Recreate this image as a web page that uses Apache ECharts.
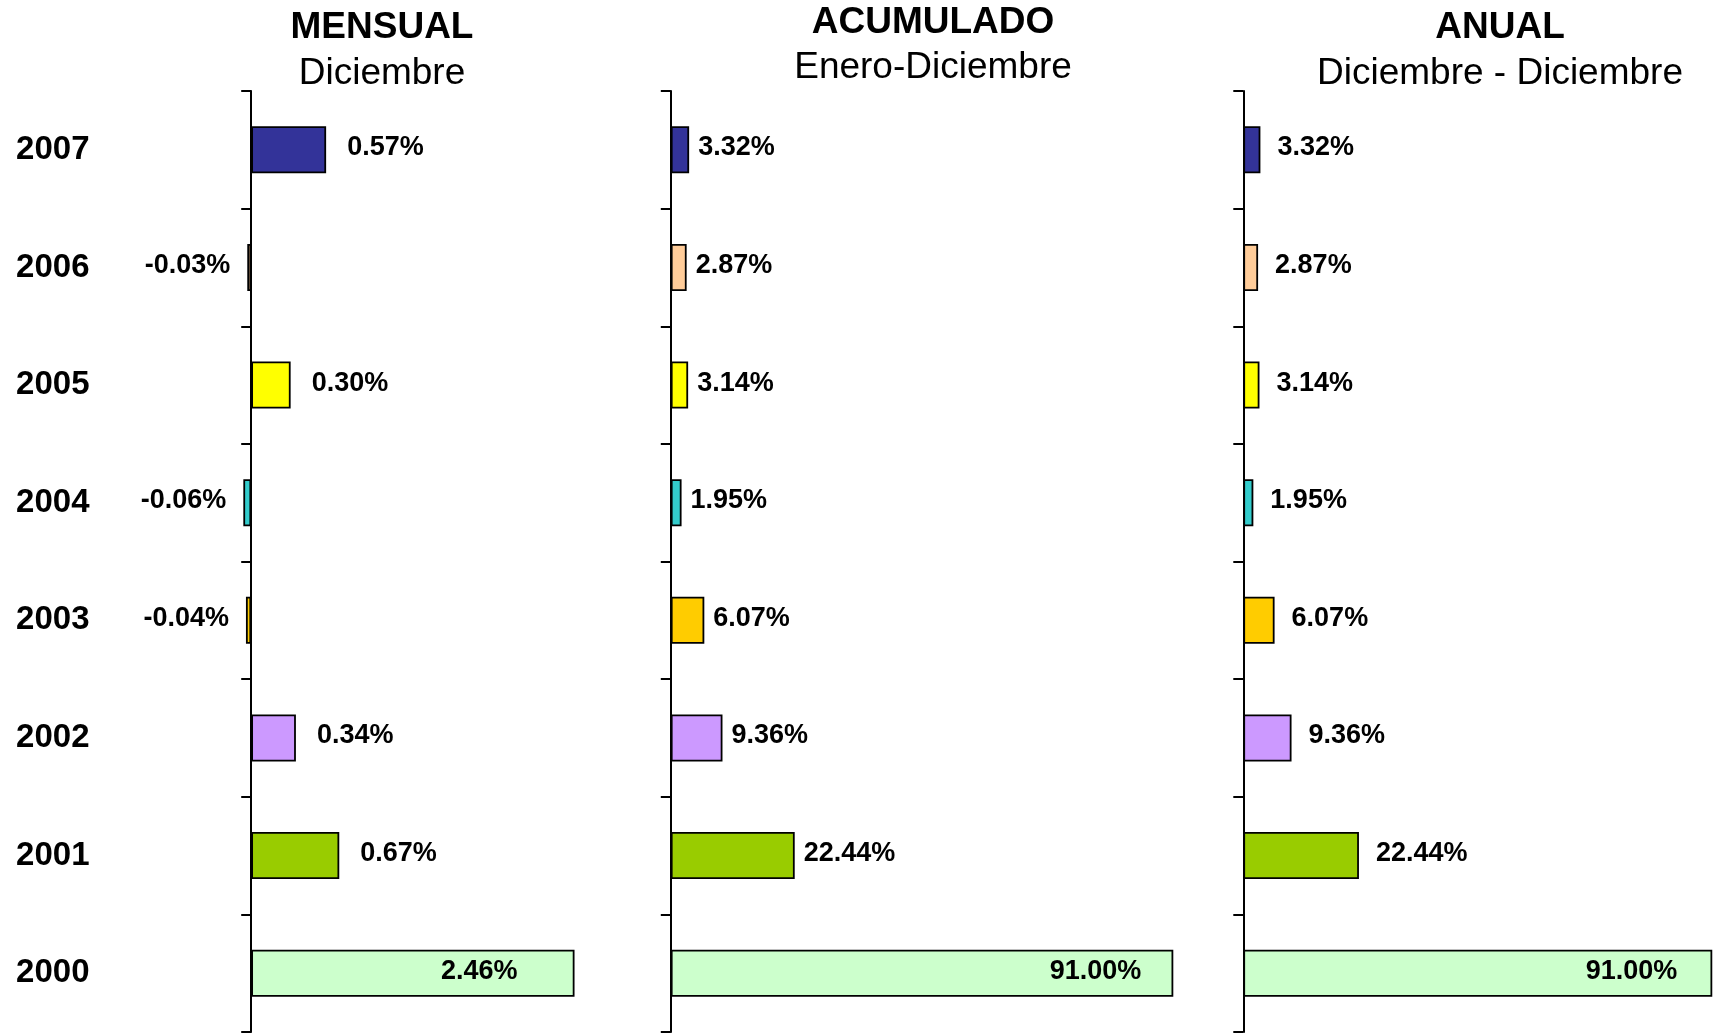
<!DOCTYPE html>
<html>
<head>
<meta charset="utf-8">
<script src="https://cdn.jsdelivr.net/npm/echarts@6/dist/echarts.min.js"></script>
<style>
  html, body { margin: 0; padding: 0; background: #fff; }
  #main { width: 1713px; height: 1036px; }
</style>
</head>
<body>
<div id="main"></div>
<script>
// datos (de arriba hacia abajo)
var years = ['2007', '2006', '2005', '2004', '2003', '2002', '2001', '2000'];
var mensual = [0.57, -0.03, 0.30, -0.06, -0.04, 0.34, 0.67, 2.46];
var acumulado = [3.32, 2.87, 3.14, 1.95, 6.07, 9.36, 22.44, 91.00];
var anual = [3.32, 2.87, 3.14, 1.95, 6.07, 9.36, 22.44, 91.00];
var barColors = ['#333399', '#FFCC99', '#FFFF00', '#33CCCC', '#FFCC00', '#CC99FF', '#99CC00', '#CCFFCC'];

var FONT = '"Liberation Sans", Arial, Helvetica, sans-serif';

var myChart = echarts.init(document.getElementById('main'));

// un panel por serie
var panels = [
    { title: 'MENSUAL', sub: 'Diciembre', cx: 382, subY: 74, titleY: 28,
      values: mensual, left: 185.5, width: 460, min: -0.5, max: 3.0, interval: 0.5,
      gap: 21, negGap: 17, insideGap: 57 },
    { title: 'ACUMULADO', sub: 'Enero-Diciembre', cx: 933, subY: 68, titleY: 23,
      values: acumulado, left: 670.8, width: 552.2, min: 0, max: 100, interval: 20,
      gap: 9, negGap: 9, insideGap: 32 },
    { title: 'ANUAL', sub: 'Diciembre - Diciembre', cx: 1500, subY: 74, titleY: 28,
      values: anual, left: 1243.3, width: 470, min: 0, max: 91.2, interval: 91.2,
      gap: 17, negGap: 17, insideGap: 35 }
];

function fmt(v) {
    return v.toFixed(2) + '%';
}

var grids = [], xAxes = [], yAxes = [], series = [], graphics = [];

panels.forEach(function (p, i) {
    var maxVal = Math.max.apply(null, p.values);
    grids.push({ left: p.left, width: p.width, top: 91, height: 941,
                 containLabel: false, outerBoundsMode: 'none' });
    xAxes.push({ gridIndex: i, type: 'value', min: p.min, max: p.max, interval: p.interval,
                 scale: false, show: false });
    yAxes.push({
        gridIndex: i,
        type: 'category',
        data: years,
        inverse: true,
        axisLine: { show: true, onZero: true, lineStyle: { color: '#000', width: 2 } },
        axisTick: { show: true, length: 10, lineStyle: { color: '#000', width: 2 } },
        axisLabel: {
            show: i === 0,
            margin: 96,
            fontSize: 33,
            fontWeight: 'bold',
            fontFamily: FONT,
            color: '#000',
            padding: [0, 0, 6, 0]
        }
    });
    series.push({
        type: 'bar',
        xAxisIndex: i,
        yAxisIndex: i,
        barWidth: 47,
        silent: true,
        data: p.values.map(function (v, k) {
            var pos = 'right', dist = p.gap;
            if (v < 0) { pos = 'left'; dist = p.negGap; }
            if (v === maxVal) { pos = 'insideRight'; dist = p.insideGap; }
            return {
                value: v,
                itemStyle: { color: barColors[k] },
                label: { position: pos, distance: dist }
            };
        }),
        itemStyle: { borderColor: '#000', borderWidth: 1.8 },
        label: {
            show: true,
            formatter: function (d) { return fmt(d.value); },
            fontSize: 27,
            fontWeight: 'bold',
            fontFamily: FONT,
            color: '#000',
            offset: [0, -2]
        }
    });
    graphics.push({
        type: 'text', x: p.cx, y: p.titleY,
        style: { text: p.title, align: 'center', verticalAlign: 'middle',
                 fontSize: 37, fontWeight: 'bold', fontFamily: FONT, fill: '#000' }
    });
    graphics.push({
        type: 'text', x: p.cx, y: p.subY,
        style: { text: p.sub, align: 'center', verticalAlign: 'middle',
                 fontSize: 37, fontFamily: FONT, fill: '#000' }
    });
});

var option = {
    backgroundColor: '#fff',
    animation: false,
    grid: grids,
    xAxis: xAxes,
    yAxis: yAxes,
    series: series,
    graphic: graphics
};

myChart.setOption(option);
</script>
</body>
</html>
